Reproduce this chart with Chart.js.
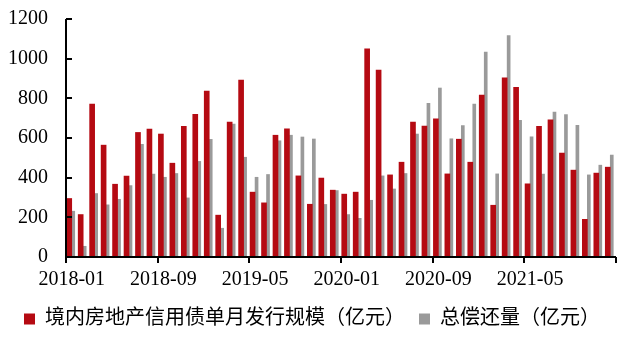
<!DOCTYPE html>
<html>
<head>
<meta charset="utf-8">
<script src="https://cdn.jsdelivr.net/npm/chart.js@4/dist/chart.umd.min.js"></script>
<style>
  html, body { margin: 0; padding: 0; background: #fff; }
  #wrap { width: 629px; height: 339px; }
</style>
</head>
<body>
<div id="wrap"><canvas id="bondChart"></canvas></div>
<script>
// Monthly categories, 2018-01 .. 2021-12
const months = [
  '2018-01','2018-02','2018-03','2018-04','2018-05','2018-06','2018-07','2018-08','2018-09','2018-10','2018-11','2018-12',
  '2019-01','2019-02','2019-03','2019-04','2019-05','2019-06','2019-07','2019-08','2019-09','2019-10','2019-11','2019-12',
  '2020-01','2020-02','2020-03','2020-04','2020-05','2020-06','2020-07','2020-08','2020-09','2020-10','2020-11','2020-12',
  '2021-01','2021-02','2021-03','2021-04','2021-05','2021-06','2021-07','2021-08','2021-09','2021-10','2021-11','2021-12'
];

// 境内房地产信用债单月发行规模（亿元）
const issuance = [
  295, 214, 771, 564, 367, 408, 628, 645, 620, 473, 659, 719,
  837, 211, 680, 892, 327, 273, 614, 646, 409, 266, 398, 337,
  317, 327, 1049, 943, 414, 478, 680, 660, 697, 419, 594, 478,
  817, 261, 904, 855, 369, 659, 692, 524, 438, 190, 423, 453
];

// 总偿还量（亿元）
const repayment = [
  231, 54, 320, 263, 291, 360, 568, 418, 402, 421, 298, 482,
  593, 145, 670, 503, 402, 416, 586, 614, 605, 595, 265, 335,
  214, 195, 286, 409, 343, 421, 620, 775, 852, 596, 662, 771,
  1033, 419, 1117, 689, 606, 418, 731, 718, 664, 414, 463, 514
];

const yTicks = [0, 200, 400, 600, 800, 1000, 1200];

const serif = "'Liberation Serif', 'Noto Sans CJK SC', serif";

// axis lines and small tick marks (y ticks point inward, x ticks every 8 months)
const axisMarks = {
  id: 'axisMarks',
  afterDraw(chart) {
    const x = chart.scales.x;
    const y = chart.scales.y;
    const a = chart.chartArea;
    const c = chart.ctx;
    const left = Math.round(a.left);
    const bottom = Math.round(a.bottom);
    c.save();
    c.strokeStyle = '#000';
    c.lineWidth = 2;
    c.beginPath();
    c.moveTo(left, Math.round(a.top));
    c.lineTo(left, bottom);
    c.lineTo(Math.round(a.right), bottom);
    y.ticks.forEach(t => {
      const py = Math.round(y.getPixelForValue(t.value));
      c.moveTo(left, py);
      c.lineTo(left + 6, py);
    });
    const half = (x.getPixelForValue(1) - x.getPixelForValue(0)) / 2;
    for (let i = 0; i < months.length; i += 8) {
      const px = Math.round(x.getPixelForValue(i) - half);
      c.moveTo(px, bottom);
      c.lineTo(px, bottom + 6);
    }
    const endX = Math.round(x.getPixelForValue(months.length - 1) + half);
    c.moveTo(endX, bottom);
    c.lineTo(endX, bottom + 6);
    c.stroke();
    c.restore();
  }
};

const ctx = document.getElementById('bondChart').getContext('2d');
new Chart(ctx, {
  type: 'bar',
  data: {
    labels: months,
    datasets: [{
      label: '境内房地产信用债单月发行规模（亿元）',
      data: issuance,
      backgroundColor: '#B50A12',
      barThickness: 5
    }, {
      label: '总偿还量（亿元）',
      data: repayment,
      backgroundColor: '#9A9A9A',
      barThickness: 3
    }]
  },
  options: {
    responsive: true,
    maintainAspectRatio: false,
    animation: false,
    layout: {
      padding: { left: 8, right: 13, top: 0, bottom: 0 }
    },
    plugins: {
      tooltip: { enabled: false },
      legend: {
        position: 'bottom',
        labels: {
          color: '#000',
          font: { family: serif, size: 20 },
          boxWidth: 11,
          boxHeight: 11,
          padding: 14
        }
      }
    },
    scales: {
      x: {
        offset: true,
        afterFit: (scale) => { scale.height = 38; },
        grid: { display: false, drawTicks: false },
        border: { display: false },
        ticks: {
          autoSkip: false,
          maxRotation: 0,
          padding: 11,
          color: '#000',
          font: { family: serif, size: 20 },
          callback: function(val, i) {
            return i % 8 === 0 ? months[i] : '';
          }
        }
      },
      y: {
        min: 0,
        max: 1200,
        afterBuildTicks: (scale) => {
          scale.ticks = yTicks.map(v => ({ value: v }));
        },
        afterFit: (scale) => {
          scale.width = 58;
          scale.paddingTop = 19;
          scale.paddingBottom = 0;
        },
        grid: { display: false, drawTicks: false },
        border: { display: false },
        ticks: {
          padding: 18,
          color: '#000',
          font: { family: serif, size: 20 },
          callback: (v) => String(v)
        }
      }
    }
  },
  plugins: [axisMarks]
});
</script>
</body>
</html>
